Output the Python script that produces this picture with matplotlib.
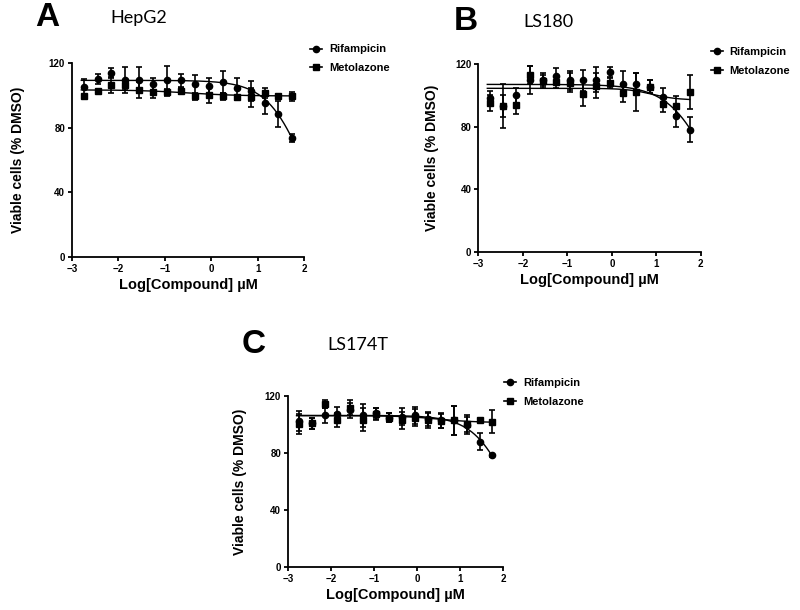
import numpy as np
import matplotlib
matplotlib.use('Agg')
import matplotlib.pyplot as plt
from matplotlib.lines import Line2D

plt.rcParams['font.family'] = ['Liberation Sans', 'DejaVu Sans']

log_conc = [-2.75, -2.45, -2.15, -1.85, -1.55, -1.25, -0.95, -0.65,
            -0.35, -0.05, 0.25, 0.55, 0.85, 1.15, 1.45, 1.75]

# HepG2
a_rif = [105.5, 110.5, 114, 109.5, 109.5, 107, 109.5, 109.5, 107, 106, 108.5, 105, 103, 95.5, 88.5, 74]
a_rif_err = [5, 3, 3, 8, 8, 4, 9, 4, 6, 5, 7, 6, 6, 7, 8, 2.5]
a_met = [99.5, 103, 106.5, 106.5, 103.5, 102.5, 102, 103, 99.5, 100.5, 99.5, 99, 99, 101.5, 100, 99.5]
a_met_err = [1, 1, 5, 3, 5, 4, 2, 2, 2, 5, 2, 1.5, 6, 3, 1, 3]

# LS180
b_rif = [98, 93, 100, 110, 110, 112.5, 109.5, 109.5, 110, 115, 107.5, 107, 105.5, 99, 87, 78]
b_rif_err = [5, 7, 5, 9, 4, 5, 6, 7, 8, 3, 8, 7, 4, 6, 7, 8]
b_met = [95, 93, 94, 113, 109, 108.5, 108, 101, 106, 108, 101.5, 102, 105.5, 94.5, 93.5, 102]
b_met_err = [5, 14, 6, 6, 4, 4, 6, 8, 8, 3, 6, 12, 4, 5, 6, 11]

# LS174T
c_rif = [102.5, 101, 106.5, 107.5, 110, 106.5, 108, 105, 105.5, 106.5, 104, 103, 103, 99.5, 88, 78.5]
c_rif_err = [7, 4, 5, 5, 5, 8, 4, 3, 6, 6, 5, 5, 10, 6, 6, 1]
c_met = [100.5, 101, 114.5, 103.5, 112, 103.5, 107.5, 105, 103, 105, 103, 102.5, 103, 100.5, 103, 102]
c_met_err = [7, 4, 3, 5, 5, 8, 4, 3, 6, 6, 5, 5, 10, 6, 1, 8]

# curvas de ajuste (top, bottom, logIC50, hill)
fits = {
    'A': [(109.5, 0, 2.04, 1.04), (103.6, 99.8, -0.5, 0.8)],
    'B': [(107, 0, 2.25, 0.9), (104.5, 97, 0.9, 1.5)],
    'C': [(106.5, 0, 2.18, 1.0), (106.3, 101.5, 0.5, 1.0)],
}

# letra, linea celular, posicion de ejes, (dx letra, dx titulo, dy), labelpad, ancla leyenda
panels = [
    ('A', 'HepG2', [0.09, 0.579, 0.29, 0.317], (-0.046, 0.0475, 0.075), 17, (0.983, 1.15),
     a_rif, a_rif_err, a_met, a_met_err),
    ('B', 'LS180', [0.598, 0.587, 0.278, 0.308], (-0.031, 0.056, 0.069), 12, (1.0, 1.146),
     b_rif, b_rif_err, b_met, b_met_err),
    ('C', 'LS174T', [0.36, 0.0705, 0.269, 0.28], (-0.058, 0.049, 0.084), 13, (0.958, 1.165),
     c_rif, c_rif_err, c_met, c_met_err),
]


def curve(x, top, bottom, c, h):
    return bottom + (top - bottom) / (1 + 10 ** ((x - c) * h))


fig = plt.figure(figsize=(8, 6.1), dpi=100)

for letter, name, pos, offs, lpad, anchor, rif, rif_err, met, met_err in panels:
    ax = fig.add_axes(pos)
    ax.errorbar(log_conc, rif, yerr=rif_err, fmt='o', color='black', ms=4.5,
                capsize=2.2, elinewidth=1.2, capthick=1.2)
    ax.errorbar(log_conc, met, yerr=met_err, fmt='s', color='black', ms=4.5,
                capsize=2.2, elinewidth=1.2, capthick=1.2)
    xs = np.linspace(log_conc[0] - 0.05, log_conc[-1], 200)
    for p in fits[letter]:
        ax.plot(xs, curve(xs, *p), color='black', lw=1)

    ax.set_xlim(-3, 2)
    ax.set_ylim(0, 120)
    ax.set_xticks([-3, -2, -1, 0, 1, 2])
    ax.set_yticks([0, 40, 80, 120])
    ax.spines['top'].set_visible(False)
    ax.spines['right'].set_visible(False)
    ax.spines['left'].set_linewidth(1.3)
    ax.spines['bottom'].set_linewidth(1.3)
    ax.tick_params(direction='out', length=3, width=1.3, labelsize=7, pad=2)
    for t in ax.get_xticklabels() + ax.get_yticklabels():
        t.set_fontweight('bold')
    ax.set_xlabel('Log[Compound] \u00b5M', fontsize=10.5, fontweight='bold', labelpad=3)
    ax.set_ylabel('Viable cells (% DMSO)', fontsize=10, fontweight='bold', labelpad=lpad)

    handles = [Line2D([], [], color='black', marker='o', ms=4.5, lw=1.2),
               Line2D([], [], color='black', marker='s', ms=4.5, lw=1.2)]
    ax.legend(handles, ['Rifampicin', 'Metolazone'], loc='upper left',
              bbox_to_anchor=anchor, frameon=False, handlelength=1.1,
              handletextpad=0.6, labelspacing=0.8,
              prop={'weight': 'bold', 'size': 8})

    top = pos[1] + pos[3]
    fig.text(pos[0] + offs[0], top + offs[2], letter, fontsize=24,
             fontweight='bold', ha='left', va='center')
    fig.text(pos[0] + offs[1], top + offs[2], name, fontsize=13,
             family='Lato', ha='left', va='center')

fig.savefig('out.png', dpi=100)
